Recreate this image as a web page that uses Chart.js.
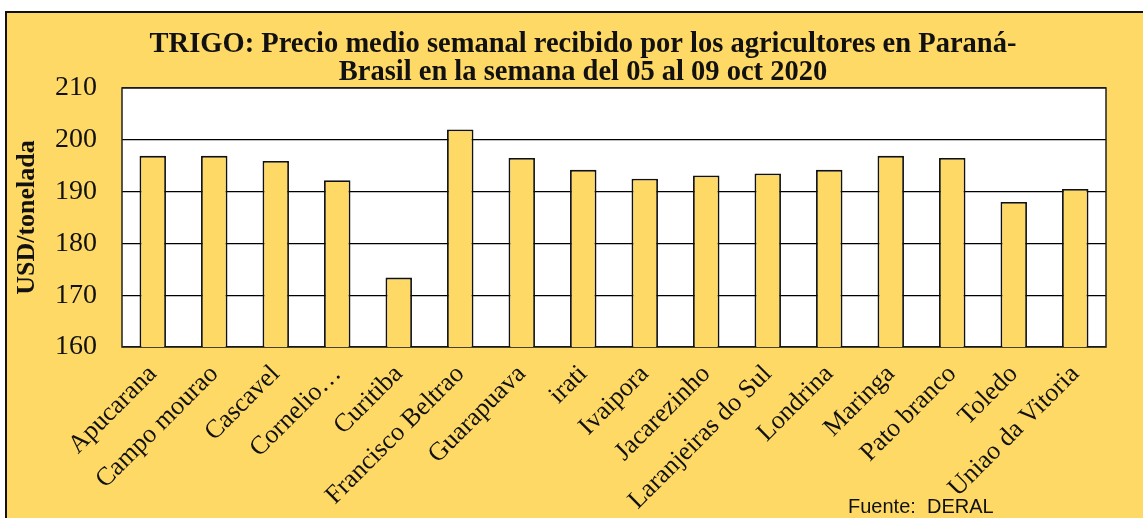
<!DOCTYPE html>
<html>
<head>
<meta charset="utf-8">
<script src="https://cdn.jsdelivr.net/npm/chart.js@4/dist/chart.umd.min.js"></script>
<style>
  body { margin: 0; background: #fff; }
  canvas { display: block; }
</style>
</head>
<body>
<canvas id="chart" width="1143" height="518"></canvas>
<script>
// data
const cities = ["Apucarana", "Campo mourao", "Cascavel", "Cornelio…", "Curitiba",
    "Francisco Beltrao", "Guarapuava", "irati", "Ivaipora", "Jacarezinho",
    "Laranjeiras do Sul", "Londrina", "Maringa", "Pato branco", "Toledo", "Uniao da Vitoria"];
const prices = [196.9, 196.9, 195.9, 192.2, 173.4, 202.0, 196.5, 194.2,
    192.5, 193.1, 193.5, 194.2, 196.9, 196.5, 188.0, 190.5];
const yTicks = [160, 170, 180, 190, 200, 210];

const titleLines = ["TRIGO: Precio medio semanal recibido por los agricultores en Paraná-",
    "Brasil en la semana del 05 al 09 oct 2020"];
const sourceText = "Fuente:  DERAL";

const gold = "#FFD966";
const serif = "'Liberation Serif', 'Times New Roman', serif";

// frame, white plot area, title and source
const framePlugin = {
    id: "frame",
    beforeDraw(chart) {
        const c = chart.ctx;
        const a = chart.chartArea;
        c.save();
        c.fillStyle = "#fff";
        c.fillRect(0, 0, chart.width, chart.height);
        c.fillStyle = gold;
        c.fillRect(5, 11, chart.width - 5, chart.height - 11);
        c.strokeStyle = "#111";
        c.lineWidth = 2;
        c.beginPath();
        c.moveTo(6, chart.height);
        c.lineTo(6, 12);
        c.lineTo(chart.width, 12);
        c.stroke();
        c.fillStyle = "#fff";
        c.fillRect(a.left, a.top, a.right - a.left, a.bottom - a.top);
        c.restore();
    },
    beforeDatasetsDraw(chart) {
        const c = chart.ctx;
        const a = chart.chartArea;
        c.save();
        c.strokeStyle = "#222";
        c.lineWidth = 1.5;
        c.strokeRect(a.left, a.top, a.right - a.left, a.bottom - a.top);
        c.restore();
    },
    afterDraw(chart) {
        const c = chart.ctx;
        c.save();
        c.fillStyle = "#111";
        c.textAlign = "center";
        c.textBaseline = "middle";
        c.font = "bold 28.5px " + serif;
        c.fillText(titleLines[0], 583, 45);
        c.fillText(titleLines[1], 583, 73);
        c.font = "20px 'Liberation Sans', Arial, sans-serif";
        c.textAlign = "left";
        c.fillText(sourceText, 848, 507);
        c.restore();
    }
};

new Chart(document.getElementById("chart"), {
    type: "bar",
    data: {
        labels: cities,
        datasets: [{
            data: prices,
            backgroundColor: gold,
            borderColor: "#111",
            borderWidth: 1.8,
            barPercentage: 0.43,
            categoryPercentage: 1
        }]
    },
    options: {
        responsive: false,
        animation: false,
        devicePixelRatio: 1,
        layout: { padding: { left: 10, right: 37, top: 88, bottom: 0 } },
        plugins: {
            legend: { display: false },
            tooltip: { enabled: false }
        },
        scales: {
            x: {
                grid: { display: false, drawTicks: false },
                border: { display: false },
                ticks: {
                    color: "#111",
                    font: { family: serif, size: 26 },
                    minRotation: 45,
                    maxRotation: 45,
                    autoSkip: false,
                    padding: 12
                },
                afterFit(scale) { scale.height = 518 - 347; }
            },
            y: {
                min: 160,
                max: 210,
                afterBuildTicks(scale) { scale.ticks = yTicks.map(v => ({ value: v })); },
                grid: { color: "#000", lineWidth: 1.3, drawTicks: false },
                border: { display: false },
                ticks: {
                    color: "#111",
                    font: { family: serif, size: 28 },
                    padding: 25
                },
                title: {
                    display: true,
                    text: "USD/tonelada",
                    color: "#111",
                    font: { family: serif, size: 26, weight: "bold" },
                    padding: { top: 2, bottom: 0 }
                },
                afterFit(scale) { scale.width = 122 - 10; }
            }
        }
    },
    plugins: [framePlugin]
});
</script>
</body>
</html>
